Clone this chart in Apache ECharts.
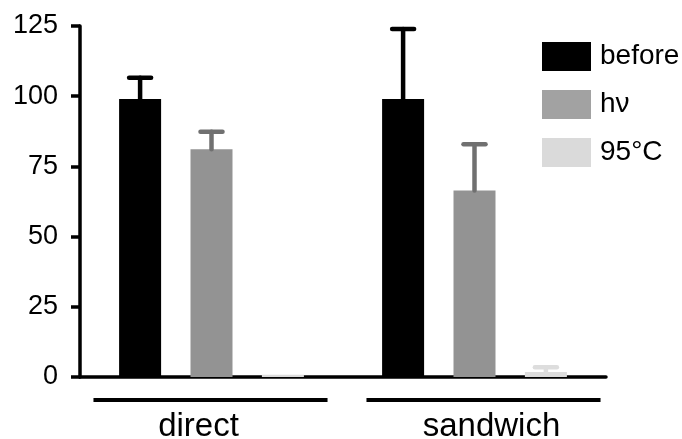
<!DOCTYPE html>
<html>
<head>
<meta charset="utf-8">
<script src="https://cdn.jsdelivr.net/npm/echarts@6/dist/echarts.min.js"></script>
<style>
  html, body { margin: 0; padding: 0; background: #fff; }
  #chart { width: 682px; height: 439px; }
</style>
</head>
<body>
<div id="chart"></div>
<script>
// Signal retained (%) per assay format and treatment
const categories = ['direct', 'sandwich'];
const seriesNames = ['before', 'h\u03bd', '95\u00b0C'];
const beforeValues = [99, 99];
const beforeErrors = [7.6, 24.9];
const hvValues = [81.1, 66.4];
const hvErrors = [6.2, 16.5];
const heatValues = [0.8, 1.8];
const heatErrors = [0, 1.7];
const yTicks = [0, 25, 50, 75, 100, 125];

const FONT = '"Liberation Sans", Arial, Helvetica, sans-serif';
const BAR_W = 42;
const BAR_GAP = 0.7;
const barColors = ['#000000', '#939393', '#dcdcdc'];
const legendColors = ['#000000', '#a2a2a2', '#dadada'];
const errColors = ['#000000', '#707070', '#dddddd'];
// horizontal nudge of each group's underline / label from the category centre
const groupLineShift = [-1, 9];
const groupTextShift = [-13, 17];

const values = [beforeValues, hvValues, heatValues];
const errors = [beforeErrors, hvErrors, heatErrors];

function errorSeries(k) {
  const step = BAR_W * (1 + BAR_GAP);
  const offset = (k - 1) * step;
  return {
    type: 'custom',
    name: seriesNames[k] + ' err',
    z: 5,
    silent: true,
    clip: false,
    data: categories.map((c, i) => [i, values[k][i], errors[k][i]]),
    renderItem: function (params, api) {
      const idx = api.value(0);
      const v = api.value(1);
      const e = api.value(2);
      if (!e) return;
      const base = api.coord([idx, v]);
      const top = api.coord([idx, v + e]);
      const x = base[0] + offset;
      const style = { stroke: errColors[k], lineWidth: 4.5, lineCap: 'round' };
      return {
        type: 'group',
        children: [
          { type: 'line', shape: { x1: x, y1: base[1], x2: x, y2: top[1] }, style: style },
          { type: 'line', shape: { x1: x - 11, y1: top[1], x2: x + 11, y2: top[1] }, style: style }
        ]
      };
    }
  };
}

const chart = echarts.init(document.getElementById('chart'), null, { renderer: 'canvas' });

const barSeries = seriesNames.map((name, k) => ({
  type: 'bar',
  name: name,
  data: values[k],
  barWidth: BAR_W,
  barGap: (BAR_GAP * 100) + '%',
  itemStyle: { color: barColors[k] },
  silent: true
}));

const option = {
  animation: false,
  backgroundColor: '#ffffff',
  textStyle: { fontFamily: FONT },
  grid: { left: 80, right: 76, top: 26, bottom: 62, containLabel: false },
  legend: {
    orient: 'vertical',
    left: 537,
    top: 37,
    itemWidth: 49,
    itemHeight: 29,
    itemGap: 19,
    icon: 'rect',
    selectedMode: false,
    textStyle: { fontSize: 28, color: '#000', fontFamily: FONT, padding: [0, 0, 0, 4] },
    data: seriesNames.map((n, k) => ({ name: n, itemStyle: { color: legendColors[k] } }))
  },
  xAxis: {
    type: 'category',
    data: categories,
    axisLine: { lineStyle: { color: '#000', width: 3.5 } },
    axisTick: { show: false },
    axisLabel: { show: false },
    splitLine: { show: false }
  },
  yAxis: {
    type: 'value',
    min: yTicks[0],
    max: yTicks[yTicks.length - 1],
    interval: yTicks[1] - yTicks[0],
    axisLine: { show: true, lineStyle: { color: '#000', width: 3.5 } },
    axisTick: { show: true, length: 9, lineStyle: { color: '#000', width: 3.5 } },
    axisLabel: { color: '#000', fontSize: 27, margin: 22, fontFamily: FONT },
    splitLine: { show: false }
  },
  series: barSeries.concat([0, 1, 2].map(errorSeries)).concat([{
    type: 'custom',
    name: 'groups',
    silent: true,
    clip: false,
    data: categories.map((c, i) => [i, 0]),
    renderItem: function (params, api) {
      const idx = api.value(0);
      const p = api.coord([idx, 0]);
      const half = api.size([1, 0])[0] * 0.445;
      const lx = p[0] + groupLineShift[idx];
      return {
        type: 'group',
        children: [
          { type: 'line', shape: { x1: lx - half, y1: p[1] + 23, x2: lx + half, y2: p[1] + 23 },
            style: { stroke: '#000', lineWidth: 4 } },
          { type: 'text', x: p[0] + groupTextShift[idx], y: p[1] + 33,
            style: { text: categories[idx], fontSize: 33, fontFamily: FONT, fill: '#000',
                     align: 'center', verticalAlign: 'top' } }
        ]
      };
    }
  }])
};

chart.setOption(option);
</script>
</body>
</html>
